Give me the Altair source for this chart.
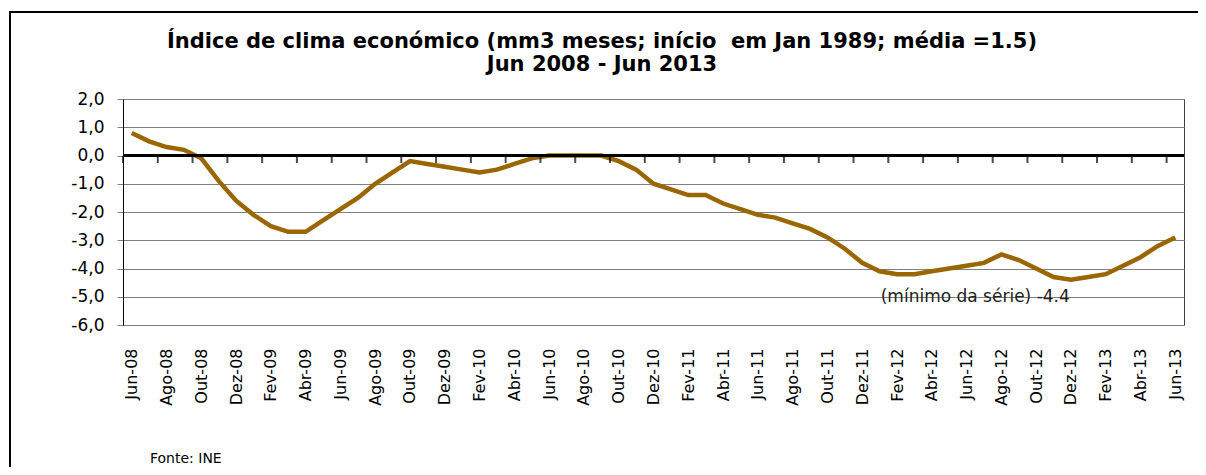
import altair as alt
import pandas as pd

months = [
    "Jun-08", "Jul-08", "Ago-08", "Set-08", "Out-08", "Nov-08", "Dez-08",
    "Jan-09", "Fev-09", "Mar-09", "Abr-09", "Mai-09", "Jun-09", "Jul-09", "Ago-09", "Set-09", "Out-09", "Nov-09", "Dez-09",
    "Jan-10", "Fev-10", "Mar-10", "Abr-10", "Mai-10", "Jun-10", "Jul-10", "Ago-10", "Set-10", "Out-10", "Nov-10", "Dez-10",
    "Jan-11", "Fev-11", "Mar-11", "Abr-11", "Mai-11", "Jun-11", "Jul-11", "Ago-11", "Set-11", "Out-11", "Nov-11", "Dez-11",
    "Jan-12", "Fev-12", "Mar-12", "Abr-12", "Mai-12", "Jun-12", "Jul-12", "Ago-12", "Set-12", "Out-12", "Nov-12", "Dez-12",
    "Jan-13", "Fev-13", "Mar-13", "Abr-13", "Mai-13", "Jun-13",
]
values = [
    0.8, 0.5, 0.3, 0.2, -0.1, -0.9, -1.6,
    -2.1, -2.5, -2.7, -2.7, -2.3, -1.9, -1.5, -1.0, -0.6, -0.2, -0.3, -0.4,
    -0.5, -0.6, -0.5, -0.3, -0.1, 0.0, 0.0, 0.0, 0.0, -0.2, -0.5, -1.0,
    -1.2, -1.4, -1.4, -1.7, -1.9, -2.1, -2.2, -2.4, -2.6, -2.9, -3.3, -3.8,
    -4.1, -4.2, -4.2, -4.1, -4.0, -3.9, -3.8, -3.5, -3.7, -4.0, -4.3, -4.4,
    -4.3, -4.2, -3.9, -3.6, -3.2, -2.9,
]
y_ticks = [-6, -5, -4, -3, -2, -1, 0, 1, 2]
title_lines = [
    "Índice de clima económico (mm3 meses; início \u00a0em Jan 1989; média =1.5)",
    "Jun 2008 - Jun 2013",
]
note_text = "(mínimo da série) -4.4"
note_x = 48.5
note_y = -5.0
source_text = "Fonte: INE"

FONT = "DejaVu Sans"
LINE_COLOR = "#996600"

n = len(months)
df = pd.DataFrame({"i": list(range(n)), "mes": months, "valor": values})
label_idx = list(range(0, n, 2))
tick_df = pd.DataFrame({"i": [k - 0.5 for k in range(0, n, 2)], "valor": [0] * len(label_idx)})
zero_df = pd.DataFrame({"valor": [0]})
note_df = pd.DataFrame({"t": [note_text], "i": [note_x], "valor": [note_y]})

labels_js = "[" + ",".join("'" + m + "'" for m in months) + "]"

xscale = alt.Scale(domain=[-0.5, n - 0.5], nice=False, zero=False)
yscale = alt.Scale(domain=[-6, 2], nice=False, zero=False)

x_axis = alt.Axis(
    values=label_idx,
    labelExpr=labels_js + "[datum.value]",
    labelAngle=270,
    labelAlign="right",
    labelBaseline="middle",
    labelFont=FONT,
    labelFontSize=16,
    labelColor="black",
    labelPadding=23,
    ticks=False,
    domain=False,
    grid=False,
    title=None,
    labelOverlap=False,
)
y_axis = alt.Axis(
    values=y_ticks,
    labelExpr="(datum.value < 0 ? '-' : '') + abs(datum.value) + ',0'",
    labelFont=FONT,
    labelFontSize=17,
    labelColor="black",
    labelPadding=13,
    tickSize=6,
    tickColor="#808080",
    grid=True,
    gridColor="#808080",
    gridWidth=1,
    domainColor="black",
    domainWidth=1,
    title=None,
)

X = alt.X("i:Q", scale=xscale, axis=x_axis)
Y = alt.Y("valor:Q", scale=yscale, axis=y_axis)

line = alt.Chart(df).mark_line(color=LINE_COLOR, strokeWidth=4.5).encode(x=X, y=Y)

zero = alt.Chart(zero_df).mark_rule(color="black", strokeWidth=3).encode(y=Y)

ticks = alt.Chart(tick_df).mark_tick(
    orient="vertical", size=7, thickness=2, color="black", yOffset=4
).encode(x=X, y=Y)

note = alt.Chart(note_df).mark_text(
    font=FONT, fontSize=17, color="#222222", align="center", baseline="middle"
).encode(x=X, y=Y, text="t:N")

title1 = alt.Chart(pd.DataFrame({"t": [title_lines[0]]})).mark_text(
    font=FONT, fontSize=21, fontWeight="bold", color="black", align="center", baseline="alphabetic"
).encode(text="t:N", x=alt.value(479), y=alt.value(-51))

title2 = alt.Chart(pd.DataFrame({"t": [title_lines[1]]})).mark_text(
    font=FONT, fontSize=21, fontWeight="bold", color="black", align="center", baseline="alphabetic"
).encode(text="t:N", x=alt.value(479), y=alt.value(-28))

source = alt.Chart(pd.DataFrame({"t": [source_text]})).mark_text(
    font=FONT, fontSize=14, color="black", align="left", baseline="middle"
).encode(text="t:N", x=alt.value(27), y=alt.value(360))

border = alt.Chart(pd.DataFrame({"a": [0]})).mark_rect(
    fillOpacity=0, stroke="black", strokeWidth=2
).encode(x=alt.value(-113), x2=alt.value(1095), y=alt.value(-87), y2=alt.value(380))

chart = alt.layer(line, zero, ticks, note, border, title1, title2, source).properties(
    width=1061,
    height=226,
    padding={"left": 115, "top": 91, "right": 14, "bottom": 142},
    autosize=alt.AutoSizeParams(type="none"),
    background="white",
).configure_view(stroke="#404040", strokeWidth=1)

chart.save("out.html", embed_options={"renderer": "svg", "actions": False})
